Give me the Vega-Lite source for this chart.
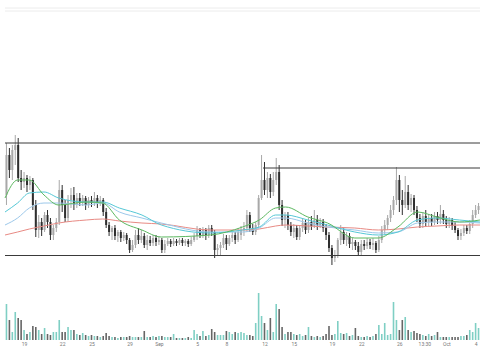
{
"$schema": "https://vega.github.io/schema/vega-lite/v6.json",
"width": 485, "height": 340, "autosize": "none", "padding": {"left": 0, "top": 0, "right": 0, "bottom": 20},
"background": "white",
"config": {"view": {"stroke": null}, "axis": {"labelFontSize": 5, "labelColor": "#777", "labelFont": "Roboto", "labelOverlap": false, "labelFlush": false, "domain": false, "ticks": false, "grid": false, "labelPadding": 1, "title": null}},
"datasets": {
"c": [
{"i":0,"o":105,"h":157,"l":95,"c":145,"v":36},
{"i":1,"o":145,"h":152,"l":122,"c":130,"v":20},
{"i":2,"o":130,"h":155,"l":120,"c":150,"v":8},
{"i":3,"o":150,"h":165,"l":135,"c":155,"v":28},
{"i":4,"o":155,"h":162,"l":118,"c":122,"v":22},
{"i":5,"o":122,"h":130,"l":110,"c":118,"v":20},
{"i":6,"o":118,"h":128,"l":112,"c":122,"v":10},
{"i":7,"o":122,"h":125,"l":108,"c":115,"v":6},
{"i":8,"o":115,"h":124,"l":110,"c":120,"v":8},
{"i":9,"o":120,"h":122,"l":90,"c":95,"v":14},
{"i":10,"o":95,"h":100,"l":63,"c":70,"v":13},
{"i":11,"o":70,"h":85,"l":62,"c":78,"v":10},
{"i":12,"o":78,"h":82,"l":64,"c":70,"v":6},
{"i":13,"o":70,"h":88,"l":68,"c":85,"v":12},
{"i":14,"o":85,"h":90,"l":72,"c":78,"v":6},
{"i":15,"o":78,"h":82,"l":60,"c":65,"v":5},
{"i":16,"o":65,"h":75,"l":60,"c":72,"v":8},
{"i":17,"o":72,"h":82,"l":68,"c":78,"v":8},
{"i":18,"o":78,"h":120,"l":75,"c":110,"v":20},
{"i":19,"o":110,"h":115,"l":88,"c":95,"v":8},
{"i":20,"o":95,"h":100,"l":78,"c":82,"v":8},
{"i":21,"o":82,"h":105,"l":78,"c":100,"v":13},
{"i":22,"o":100,"h":112,"l":92,"c":105,"v":10},
{"i":23,"o":105,"h":113,"l":90,"c":95,"v":10},
{"i":24,"o":95,"h":107,"l":92,"c":102,"v":6},
{"i":25,"o":102,"h":107,"l":94,"c":98,"v":5},
{"i":26,"o":98,"h":105,"l":94,"c":102,"v":7},
{"i":27,"o":102,"h":104,"l":90,"c":95,"v":5},
{"i":28,"o":95,"h":103,"l":92,"c":100,"v":4},
{"i":29,"o":100,"h":104,"l":93,"c":97,"v":5},
{"i":30,"o":97,"h":108,"l":94,"c":102,"v":4},
{"i":31,"o":102,"h":105,"l":92,"c":98,"v":4},
{"i":32,"o":98,"h":104,"l":94,"c":100,"v":3},
{"i":33,"o":100,"h":102,"l":84,"c":88,"v":4},
{"i":34,"o":88,"h":92,"l":72,"c":75,"v":7},
{"i":35,"o":75,"h":78,"l":64,"c":68,"v":4},
{"i":36,"o":68,"h":74,"l":60,"c":72,"v":3},
{"i":37,"o":72,"h":75,"l":60,"c":64,"v":3},
{"i":38,"o":64,"h":70,"l":58,"c":68,"v":2},
{"i":39,"o":68,"h":70,"l":58,"c":62,"v":3},
{"i":40,"o":62,"h":68,"l":59,"c":65,"v":3},
{"i":41,"o":65,"h":67,"l":56,"c":60,"v":3},
{"i":42,"o":60,"h":62,"l":47,"c":50,"v":4},
{"i":43,"o":50,"h":60,"l":48,"c":55,"v":3},
{"i":44,"o":55,"h":70,"l":52,"c":65,"v":3},
{"i":45,"o":65,"h":72,"l":56,"c":60,"v":3},
{"i":46,"o":60,"h":70,"l":57,"c":64,"v":3},
{"i":47,"o":64,"h":67,"l":52,"c":55,"v":9},
{"i":48,"o":55,"h":65,"l":50,"c":60,"v":3},
{"i":49,"o":60,"h":64,"l":54,"c":57,"v":3},
{"i":50,"o":57,"h":65,"l":54,"c":62,"v":4},
{"i":51,"o":62,"h":65,"l":54,"c":58,"v":3},
{"i":52,"o":58,"h":64,"l":55,"c":60,"v":4},
{"i":53,"o":60,"h":62,"l":47,"c":50,"v":4},
{"i":54,"o":50,"h":60,"l":47,"c":56,"v":3},
{"i":55,"o":56,"h":62,"l":54,"c":59,"v":3},
{"i":56,"o":59,"h":61,"l":53,"c":56,"v":3},
{"i":57,"o":56,"h":62,"l":54,"c":59,"v":6},
{"i":58,"o":59,"h":61,"l":54,"c":57,"v":2},
{"i":59,"o":57,"h":62,"l":55,"c":60,"v":2},
{"i":60,"o":60,"h":62,"l":54,"c":57,"v":2},
{"i":61,"o":57,"h":61,"l":54,"c":59,"v":2},
{"i":62,"o":59,"h":61,"l":53,"c":56,"v":3},
{"i":63,"o":56,"h":63,"l":54,"c":60,"v":2},
{"i":64,"o":60,"h":67,"l":58,"c":64,"v":10},
{"i":65,"o":64,"h":74,"l":60,"c":70,"v":6},
{"i":66,"o":70,"h":72,"l":62,"c":65,"v":4},
{"i":67,"o":65,"h":73,"l":62,"c":70,"v":9},
{"i":68,"o":70,"h":72,"l":60,"c":65,"v":4},
{"i":69,"o":65,"h":75,"l":62,"c":72,"v":5},
{"i":70,"o":72,"h":75,"l":64,"c":68,"v":11},
{"i":71,"o":68,"h":70,"l":42,"c":50,"v":8},
{"i":72,"o":50,"h":56,"l":44,"c":52,"v":5},
{"i":73,"o":52,"h":58,"l":45,"c":55,"v":5},
{"i":74,"o":55,"h":66,"l":52,"c":62,"v":5},
{"i":75,"o":62,"h":65,"l":50,"c":56,"v":9},
{"i":76,"o":56,"h":65,"l":54,"c":62,"v":8},
{"i":77,"o":62,"h":68,"l":58,"c":65,"v":6},
{"i":78,"o":65,"h":68,"l":56,"c":60,"v":8},
{"i":79,"o":60,"h":72,"l":58,"c":68,"v":7},
{"i":80,"o":65,"h":74,"l":60,"c":70,"v":8},
{"i":81,"o":70,"h":78,"l":64,"c":72,"v":7},
{"i":82,"o":72,"h":90,"l":68,"c":85,"v":5},
{"i":83,"o":85,"h":88,"l":68,"c":72,"v":5},
{"i":84,"o":72,"h":76,"l":65,"c":68,"v":4},
{"i":85,"o":68,"h":78,"l":65,"c":75,"v":17},
{"i":86,"o":75,"h":105,"l":72,"c":102,"v":47},
{"i":87,"o":102,"h":145,"l":100,"c":120,"v":24},
{"i":88,"o":120,"h":138,"l":105,"c":110,"v":17},
{"i":89,"o":110,"h":128,"l":102,"c":122,"v":10},
{"i":90,"o":122,"h":126,"l":102,"c":108,"v":22},
{"i":91,"o":108,"h":128,"l":104,"c":120,"v":8},
{"i":92,"o":120,"h":142,"l":115,"c":128,"v":36},
{"i":93,"o":128,"h":135,"l":90,"c":95,"v":31},
{"i":94,"o":95,"h":100,"l":74,"c":80,"v":13},
{"i":95,"o":80,"h":88,"l":72,"c":85,"v":6},
{"i":96,"o":85,"h":88,"l":70,"c":75,"v":8},
{"i":97,"o":75,"h":78,"l":64,"c":68,"v":8},
{"i":98,"o":68,"h":76,"l":62,"c":72,"v":6},
{"i":99,"o":72,"h":75,"l":60,"c":63,"v":5},
{"i":100,"o":63,"h":75,"l":60,"c":72,"v":6},
{"i":101,"o":72,"h":82,"l":68,"c":77,"v":4},
{"i":102,"o":77,"h":80,"l":66,"c":70,"v":5},
{"i":103,"o":70,"h":82,"l":67,"c":78,"v":13},
{"i":104,"o":78,"h":84,"l":70,"c":74,"v":4},
{"i":105,"o":74,"h":90,"l":72,"c":80,"v":3},
{"i":106,"o":80,"h":85,"l":70,"c":75,"v":4},
{"i":107,"o":75,"h":82,"l":72,"c":78,"v":3},
{"i":108,"o":78,"h":81,"l":68,"c":72,"v":4},
{"i":109,"o":72,"h":76,"l":60,"c":65,"v":6},
{"i":110,"o":65,"h":68,"l":48,"c":52,"v":14},
{"i":111,"o":52,"h":55,"l":35,"c":42,"v":5},
{"i":112,"o":42,"h":50,"l":38,"c":45,"v":6},
{"i":113,"o":45,"h":62,"l":42,"c":60,"v":19},
{"i":114,"o":60,"h":75,"l":55,"c":68,"v":7},
{"i":115,"o":68,"h":72,"l":56,"c":60,"v":6},
{"i":116,"o":60,"h":68,"l":54,"c":64,"v":7},
{"i":117,"o":64,"h":67,"l":52,"c":56,"v":4},
{"i":118,"o":56,"h":62,"l":50,"c":58,"v":5},
{"i":119,"o":58,"h":60,"l":50,"c":54,"v":12},
{"i":120,"o":54,"h":58,"l":45,"c":48,"v":4},
{"i":121,"o":48,"h":60,"l":45,"c":56,"v":3},
{"i":122,"o":56,"h":60,"l":50,"c":54,"v":3},
{"i":123,"o":54,"h":62,"l":51,"c":58,"v":4},
{"i":124,"o":58,"h":61,"l":51,"c":55,"v":3},
{"i":125,"o":55,"h":62,"l":50,"c":57,"v":4},
{"i":126,"o":57,"h":59,"l":47,"c":50,"v":6},
{"i":127,"o":50,"h":64,"l":48,"c":60,"v":15},
{"i":128,"o":60,"h":74,"l":57,"c":70,"v":6},
{"i":129,"o":70,"h":80,"l":66,"c":75,"v":17},
{"i":130,"o":75,"h":85,"l":70,"c":82,"v":5},
{"i":131,"o":82,"h":95,"l":78,"c":90,"v":6},
{"i":132,"o":90,"h":104,"l":85,"c":100,"v":38},
{"i":133,"o":100,"h":133,"l":95,"c":120,"v":20},
{"i":134,"o":120,"h":125,"l":88,"c":100,"v":10},
{"i":135,"o":100,"h":110,"l":85,"c":95,"v":20},
{"i":136,"o":95,"h":124,"l":92,"c":108,"v":23},
{"i":137,"o":108,"h":115,"l":90,"c":95,"v":10},
{"i":138,"o":95,"h":106,"l":88,"c":102,"v":8},
{"i":139,"o":102,"h":105,"l":85,"c":90,"v":9},
{"i":140,"o":90,"h":94,"l":78,"c":82,"v":7},
{"i":141,"o":82,"h":86,"l":72,"c":76,"v":6},
{"i":142,"o":76,"h":88,"l":72,"c":84,"v":5},
{"i":143,"o":84,"h":90,"l":74,"c":78,"v":4},
{"i":144,"o":78,"h":86,"l":74,"c":82,"v":6},
{"i":145,"o":82,"h":86,"l":74,"c":78,"v":4},
{"i":146,"o":78,"h":88,"l":75,"c":84,"v":5},
{"i":147,"o":84,"h":88,"l":76,"c":80,"v":8},
{"i":148,"o":80,"h":95,"l":76,"c":86,"v":3},
{"i":149,"o":86,"h":90,"l":76,"c":80,"v":3},
{"i":150,"o":80,"h":84,"l":72,"c":76,"v":3},
{"i":151,"o":76,"h":83,"l":72,"c":80,"v":3},
{"i":152,"o":80,"h":82,"l":70,"c":74,"v":3},
{"i":153,"o":74,"h":78,"l":67,"c":70,"v":3},
{"i":154,"o":70,"h":72,"l":60,"c":64,"v":3},
{"i":155,"o":64,"h":71,"l":60,"c":67,"v":4},
{"i":156,"o":67,"h":75,"l":64,"c":72,"v":4},
{"i":157,"o":72,"h":75,"l":66,"c":69,"v":5},
{"i":158,"o":69,"h":80,"l":66,"c":76,"v":10},
{"i":159,"o":76,"h":90,"l":72,"c":85,"v":8},
{"i":160,"o":85,"h":95,"l":82,"c":90,"v":17},
{"i":161,"o":90,"h":97,"l":86,"c":94,"v":12}
],
"ma": [
{"i":-0.5,"g":102,"cy":88,"lb":75,"r":65},
{"i":3.8,"g":120,"cy":97,"lb":82,"r":68},
{"i":7.8,"g":120,"cy":107,"lb":92,"r":71},
{"i":12.8,"g":105,"cy":108,"lb":97,"r":74},
{"i":17.8,"g":95,"cy":102,"lb":97,"r":77},
{"i":27.2,"g":98,"cy":98,"lb":95,"r":80},
{"i":32.8,"g":97,"cy":98,"lb":97,"r":81},
{"i":38.5,"g":80,"cy":92,"lb":88,"r":79},
{"i":46.2,"g":70,"cy":85,"lb":82,"r":77},
{"i":52.8,"g":63,"cy":75,"lb":77,"r":76},
{"i":69.5,"g":65,"cy":67,"lb":68,"r":70},
{"i":80.5,"g":73,"cy":70,"lb":68,"r":70},
{"i":86.2,"g":80,"cy":73,"lb":72,"r":71},
{"i":91.8,"g":92,"cy":85,"lb":82,"r":74},
{"i":95.2,"g":93,"cy":85,"lb":82,"r":75},
{"i":102.8,"g":83,"cy":80,"lb":77,"r":74},
{"i":109.5,"g":77,"cy":75,"lb":73,"r":73},
{"i":118.8,"g":62,"cy":68,"lb":70,"r":72},
{"i":126.8,"g":62,"cy":65,"lb":67,"r":70},
{"i":133.5,"g":73,"cy":68,"lb":68,"r":71},
{"i":140.2,"g":88,"cy":80,"lb":77,"r":73},
{"i":146.8,"g":83,"cy":82,"lb":78,"r":74},
{"i":154.5,"g":78,"cy":80,"lb":78,"r":75},
{"i":161.5,"g":80,"cy":78,"lb":77,"r":75}
],
"lv": [
{"p":157,"i":-0.5,"b":161.5},
{"p":44.5,"i":-0.5,"b":161.5},
{"p":132,"i":87.5,"b":161.5}
],
"top": [
{"p":292,"i":-0.5,"b":161.5},
{"p":289,"i":-0.5,"b":161.5}
]
},
"resolve": {"scale": {"y": "independent"}},
"encoding": {
"x": {"field": "i", "type": "quantitative", "scale": {"domain": [-0.5, 161.5], "nice": false, "zero": false},
"axis": {"title": null, "orient": "bottom", "domain": false, "ticks": false, "grid": false, "labelPadding": 1, "labelOverlap": false, "labelFlush": false, "labelBound": false,
"values": [6,19,29,42,52,65,75,88,98,111,121,134,142.5,150,160],
"labelExpr": "datum.value == 6 ? '19' : datum.value == 19 ? '22' : datum.value == 29 ? '25' : datum.value == 42 ? '29' : datum.value == 52 ? 'Sep' : datum.value == 65 ? '5' : datum.value == 75 ? '8' : datum.value == 88 ? '12' : datum.value == 98 ? '15' : datum.value == 111 ? '19' : datum.value == 121 ? '22' : datum.value == 134 ? '26' : datum.value == 142.5 ? '13:30' : datum.value == 150 ? 'Oct' : '4'"}}
},
"layer": [
{
"data": {"name": "c"},
"mark": {"type": "bar", "size": 1.6},
"encoding": {
"y": {"field": "v", "type": "quantitative", "scale": {"domain": [0, 340], "nice": false}, "axis": null},
"color": {"condition": {"test": "datum.c >= datum.o", "value": "#7fcfc4"}, "value": "#666666"}
}
},
{
"data": {"name": "top"},
"mark": {"type": "rule", "color": "#ececec", "strokeWidth": 1},
"encoding": {
"x2": {"field": "b"},
"y": {"field": "p", "type": "quantitative", "scale": {"domain": [-40, 300], "nice": false, "zero": false}, "axis": null}
}
},
{
"data": {"name": "c"},
"mark": {"type": "rule", "strokeWidth": 1},
"encoding": {
"y": {"field": "h", "type": "quantitative", "scale": {"domain": [-40, 300], "nice": false, "zero": false}, "axis": null},
"y2": {"field": "l"},
"color": {"condition": {"test": "datum.c >= datum.o", "value": "#a8a8a8"}, "value": "#2e2e2e"}
}
},
{
"data": {"name": "c"},
"mark": {"type": "bar", "size": 2},
"encoding": {
"y": {"field": "o", "type": "quantitative", "scale": {"domain": [-40, 300], "nice": false, "zero": false}, "axis": null},
"y2": {"field": "c"},
"color": {"condition": {"test": "datum.c >= datum.o", "value": "#a8a8a8"}, "value": "#2e2e2e"}
}
},
{
"data": {"name": "ma"},
"transform": [{"fold": ["r", "lb", "cy", "g"], "as": ["ma", "p"]}],
"mark": {"type": "line", "strokeWidth": 1, "interpolate": "monotone"},
"encoding": {
"y": {"field": "p", "type": "quantitative", "scale": {"domain": [-40, 300], "nice": false, "zero": false}, "axis": null},
"color": {"field": "ma", "type": "nominal", "scale": {"domain": ["r", "lb", "cy", "g"], "range": ["#e88a84", "#9cc8ea", "#56c8d6", "#5cb860"]}, "legend": null}
}
},
{
"data": {"name": "lv"},
"mark": {"type": "rule", "color": "#3a3a3a", "strokeWidth": 1},
"encoding": {
"x2": {"field": "b"},
"y": {"field": "p", "type": "quantitative", "scale": {"domain": [-40, 300], "nice": false, "zero": false}, "axis": null}
}
}
]
}
